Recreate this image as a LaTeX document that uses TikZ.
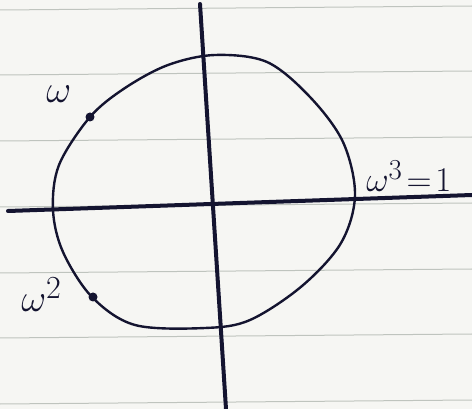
\documentclass[tikz,border=0pt]{standalone}
\usepackage{amsmath}
\definecolor{ink}{HTML}{141430}
\definecolor{paper}{HTML}{F6F6F3}
\definecolor{rule}{HTML}{BFC4BE}
\begin{document}
\begin{tikzpicture}[x=1pt,y=-1pt,
  axisline/.style={draw=ink,line width=4pt,line cap=round},
  curve/.style={draw=ink,line width=2.4pt},
  dotpt/.style={circle,fill=ink,inner sep=0pt,minimum size=9pt},
  lbl/.style={text=ink,inner sep=0pt,anchor=base west,font=\Huge,scale=1.55}]
\fill[paper] (0,0) rectangle (472,409);
\useasboundingbox (0,0) rectangle (472,409);
% ruled paper lines
\foreach \yy in {8,73,139,205,271,336,402}
  \draw[rule,line width=1pt] (0,\yy+2) -- (472,\yy-2);
% circle
\draw[curve] plot[smooth cycle,tension=0.55] coordinates {
  (215,55) (267,62) (310,97) (343,142) (355,195) (341,243) (302,286)
  (250,320) (205,328) (135,325) (92,297) (63,252) (53,210) (59,165)
  (90,117) (125,88) (168,65)};
% axes
\coordinate (vt) at (200,4);
\coordinate (vb) at (226,409);
\coordinate (hl) at (8,211);
\coordinate (hr) at (472,195);
\draw[axisline] (vt) -- (vb);
\draw[axisline] (hl) -- (hr);
% points
\node[dotpt] (w1) at (90,117) {};
\node[dotpt] (w2) at (93,297) {};
\node[lbl] (l1) at (46,103) {$\omega$};
\node[lbl] (l2) at (21,312) {$\omega^{2}$};
\node[lbl,scale=0.9] (l3) at (366,192) {$\omega^{3}\!=\!1$};
\end{tikzpicture}
\end{document}
